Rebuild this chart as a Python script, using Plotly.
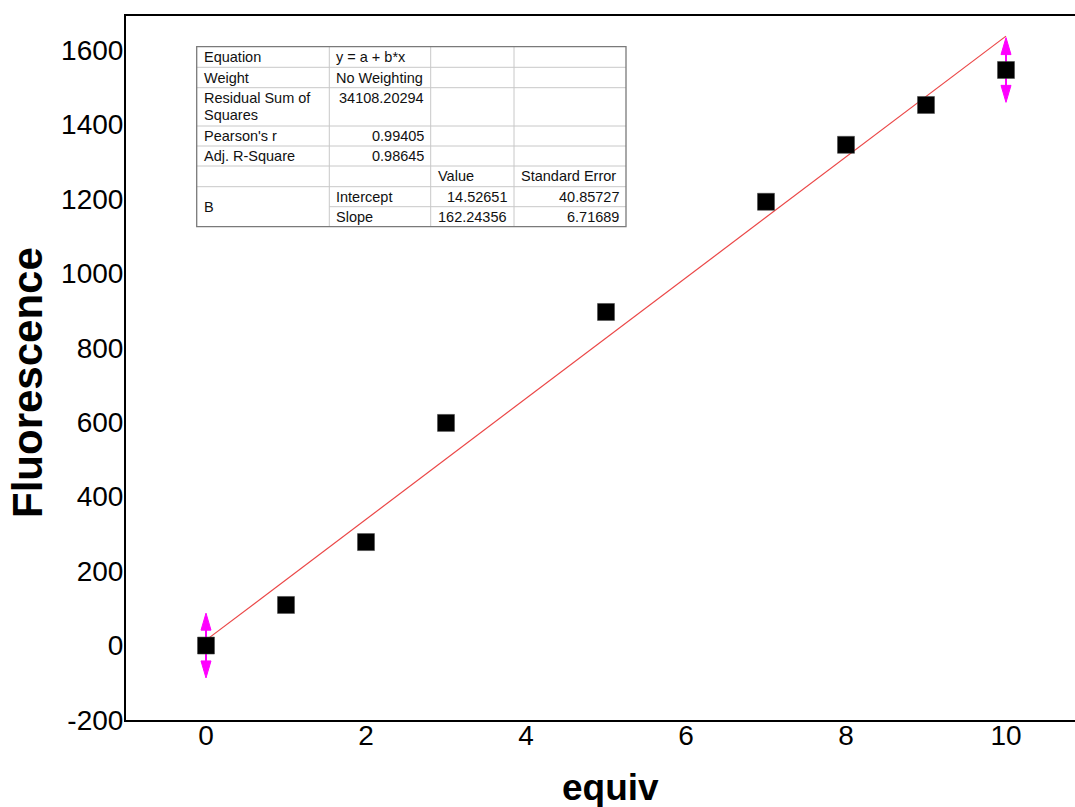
import plotly.graph_objects as go

# Titration data: fluorescence vs. equivalents
equiv = [0, 1, 2, 3, 5, 7, 8, 9, 10]
fluorescence = [0, 109, 278, 598, 896, 1192, 1345, 1452, 1546]

# Points flagged with a vertical range marker (equiv, half-range)
range_x = [0, 10]
range_y = [0, 1546]
range_half = [87, 87]

# Linear fit results (y = a + b*x)
fit_intercept = 14.52651
fit_slope = 162.24356
fit_x = [0, 10]

# Fit report table
table_rows = [
    ["Equation", "y = a + b*x", "", ""],
    ["Weight", "No Weighting", "", ""],
    ["Residual Sum of|Squares", "34108.20294", "", ""],
    ["Pearson's r", "0.99405", "", ""],
    ["Adj. R-Square", "0.98645", "", ""],
    ["", "", "Value", "Standard Error"],
    ["B", "Intercept", "14.52651", "40.85727"],
    ["", "Slope", "162.24356", "6.71689"],
]

x_ticks = [0, 2, 4, 6, 8, 10]
y_ticks = [-200, 0, 200, 400, 600, 800, 1000, 1200, 1400, 1600]
y_tick_text = ["-200", "0", "200", "400", "600", "800", "1000", "1200", "1400", "1600"]

# ---- layout geometry (pixels) ----
W, H = 1075, 807
ML, MR, MT, MB = 126, 0, 16, 87
PW, PH = W - ML - MR, H - MT - MB
X_RANGE = [-1.0, 10.8625]
Y_RANGE = [-200, 1691]
FONT = "Liberation Sans, Arial, sans-serif"


def px(x):
    return (x - ML) / PW


def py(y):
    return (H - MB - y) / PH


fig = go.Figure()

# fitted line
fig.add_trace(go.Scatter(
    x=fit_x, y=[fit_intercept + fit_slope * v for v in fit_x],
    mode="lines", line=dict(color="rgb(235,70,70)", width=1.2),
    hoverinfo="skip", showlegend=False))

# range markers: shaft and two arrow heads
x_per_px = (X_RANGE[1] - X_RANGE[0]) / PW
y_per_px = (Y_RANGE[1] - Y_RANGE[0]) / PH
head_len = 17 * y_per_px
head_half = 5 * x_per_px
for xv, yv, hv in zip(range_x, range_y, range_half):
    fig.add_trace(go.Scatter(
        x=[xv, xv], y=[yv - hv + head_len * 0.5, yv + hv - head_len * 0.5],
        mode="lines", line=dict(color="#ff00ff", width=2),
        hoverinfo="skip", showlegend=False))
    for sgn in (1, -1):
        tip = yv + sgn * hv
        base = tip - sgn * head_len
        fig.add_trace(go.Scatter(
            x=[xv, xv - head_half, xv + head_half, xv],
            y=[tip, base, base, tip],
            mode="lines", fill="toself", fillcolor="#ff00ff",
            line=dict(color="#ff00ff", width=1),
            hoverinfo="skip", showlegend=False))

# data points
fig.add_trace(go.Scatter(
    x=equiv, y=fluorescence, mode="markers",
    marker=dict(symbol="square", size=17, color="black",
                line=dict(color="#444444", width=0.5)),
    showlegend=False))

# ---- fit report table ----
col_edges = [196.7, 329.3, 430.7, 514.0, 626.0]
row_edges = [46.7, 67.3, 87.7, 126.0, 146.0, 166.0, 186.7, 206.7, 226.7]
shapes = []
inner = dict(color="#c8c8c8", width=1)
for i, yv in enumerate(row_edges[1:-1], start=1):
    x0 = col_edges[1] if i == 7 else col_edges[0]
    shapes.append(dict(type="line", xref="paper", yref="paper",
                       x0=px(x0), x1=px(col_edges[-1]), y0=py(yv), y1=py(yv),
                       line=inner))
for xv in col_edges[1:-1]:
    shapes.append(dict(type="line", xref="paper", yref="paper",
                       x0=px(xv), x1=px(xv), y0=py(row_edges[0]), y1=py(row_edges[-1]),
                       line=inner))
shapes.append(dict(type="rect", xref="paper", yref="paper",
                   x0=px(col_edges[0]), x1=px(col_edges[-1]),
                   y0=py(row_edges[0]), y1=py(row_edges[-1]),
                   line=dict(color="#7a7a7a", width=1.3)))

annotations = []
tfont = dict(family=FONT, size=14.5, color="#111111")


def is_num(s):
    try:
        float(s)
        return True
    except ValueError:
        return False


for r, row in enumerate(table_rows):
    top, bot = row_edges[r], row_edges[r + 1]
    for c, txt in enumerate(row):
        if not txt:
            continue
        left, right = col_edges[c], col_edges[c + 1]
        lines = txt.split("|")
        if r == 2:
            # tall row: text sits at the top of the cell
            ys = [top + 10 + 17 * k for k in range(len(lines))]
        elif r == 6 and c == 0:
            # merged cell spanning the two parameter rows
            ys = [(top + row_edges[r + 2]) / 2]
        else:
            ys = [(top + bot) / 2]
        for line_txt, yc in zip(lines, ys):
            if is_num(line_txt):
                xa, xx = "right", right - 5
            else:
                xa, xx = "left", left + 5
            annotations.append(dict(
                xref="paper", yref="paper", x=px(xx), y=py(yc),
                xanchor=xa, yanchor="middle", text=line_txt,
                showarrow=False, font=tfont))

# axis titles
annotations.append(dict(xref="paper", yref="paper", x=px(610), y=py(787),
                        xanchor="center", yanchor="middle", text="<b>equiv</b>",
                        showarrow=False,
                        font=dict(family=FONT, size=37, color="black")))
annotations.append(dict(xref="paper", yref="paper", x=px(28), y=py(383),
                        xanchor="center", yanchor="middle",
                        text="<b>Fluorescence</b>", textangle=-90,
                        showarrow=False,
                        font=dict(family=FONT, size=42, color="black")))

fig.update_layout(
    width=W, height=H,
    margin=dict(l=ML, r=MR, t=MT, b=MB, pad=0),
    paper_bgcolor="white", plot_bgcolor="white",
    font=dict(family=FONT, color="black"),
    shapes=shapes, annotations=annotations,
    xaxis=dict(range=X_RANGE, tickvals=x_ticks, showgrid=False, zeroline=False,
               showline=True, linecolor="black", linewidth=2, mirror=True,
               ticks="", ticklabelstandoff=-11,
               tickfont=dict(family=FONT, size=28, color="black")),
    yaxis=dict(range=Y_RANGE, tickvals=y_ticks, ticktext=y_tick_text,
               showgrid=False, zeroline=False,
               showline=True, linecolor="black", linewidth=2,
               ticks="", ticklabelstandoff=-5,
               tickfont=dict(family=FONT, size=28, color="black")),
)

fig.write_html("out.html")
